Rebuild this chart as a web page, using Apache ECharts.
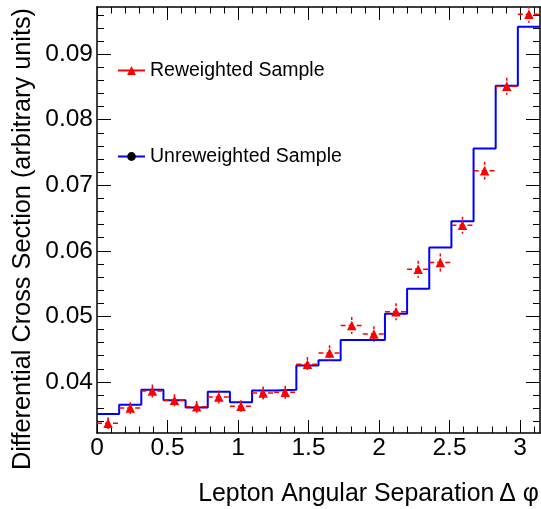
<!DOCTYPE html>
<html>
<head>
<meta charset="utf-8">
<script src="https://cdn.jsdelivr.net/npm/echarts@6/dist/echarts.min.js"></script>
<style>
html,body{margin:0;padding:0;background:#fff;}
#chart{width:541px;height:509px;}
</style>
</head>
<body>
<div id="chart"></div>
<script>
// ---- data ----
const binEdges = [0, 0.1571, 0.3142, 0.4712, 0.6283, 0.7854, 0.9425, 1.0996, 1.2566, 1.4137, 1.5708,
                  1.7279, 1.8850, 2.0420, 2.1991, 2.3562, 2.5133, 2.6704, 2.8274, 2.9845, 3.1416];
const unreweighted = [0.0351, 0.0365, 0.0388, 0.0372, 0.0361, 0.0385, 0.0369, 0.0387, 0.0388, 0.0425,
                      0.0433, 0.0464, 0.0464, 0.0504, 0.0542, 0.0605, 0.0645, 0.0756, 0.0852, 0.0942];
const reweighted = [0.0337, 0.0360, 0.0386, 0.0372, 0.0362, 0.0377, 0.0363, 0.0383, 0.0384, 0.0427,
                    0.0444, 0.0486, 0.0473, 0.0507, 0.0572, 0.0582, 0.0639, 0.0722, 0.0851, 0.0961];
const reweightedErr = [0.0009, 0.0009, 0.0010, 0.0009, 0.0009, 0.0010, 0.0009, 0.0010, 0.0010, 0.0011,
                       0.0012, 0.0013, 0.0012, 0.0013, 0.0013, 0.0014, 0.0013, 0.0014, 0.0013, 0.0013];
const xMajorTicks = [0, 0.5, 1, 1.5, 2, 2.5, 3];
const xMajorLabels = ['0', '0.5', '1', '1.5', '2', '2.5', '3'];
const xMinorTicks = [0.1, 0.2, 0.3, 0.4, 0.6, 0.7, 0.8, 0.9, 1.1, 1.2, 1.3, 1.4, 1.6, 1.7, 1.8, 1.9,
                     2.1, 2.2, 2.3, 2.4, 2.6, 2.7, 2.8, 2.9, 3.1];
const yMajorTicks = [0.04, 0.05, 0.06, 0.07, 0.08, 0.09];
const yMajorLabels = ['0.04', '0.05', '0.06', '0.07', '0.08', '0.09'];
const yMinorTicks = [0.034, 0.036, 0.038, 0.042, 0.044, 0.046, 0.048, 0.052, 0.054, 0.056, 0.058,
                     0.062, 0.064, 0.066, 0.068, 0.072, 0.074, 0.076, 0.078, 0.082, 0.084, 0.086, 0.088,
                     0.092, 0.094, 0.096];
const xRange = [0, 3.1416];
const yRange = [0.0322, 0.0972];
const seriesNames = ['Reweighted Sample', 'Unreweighted Sample'];
const xTitle = 'Lepton Angular Separation\u2009\u0394 \u03c6';
const yTitle = 'Differential Cross Section (arbitrary units)';

// ---- build ----
const FONT = "'Liberation Sans', Arial, Helvetica, sans-serif";
const chart = echarts.init(document.getElementById('chart'), null, {renderer: 'canvas'});

function xAx(pos, major, withLine) {
  return {
    type: 'value', position: pos, min: xRange[0], max: xRange[1],
    axisLine: {show: withLine, onZero: false, lineStyle: {color: '#000', width: 1.5}},
    splitLine: {show: false},
    axisTick: {show: true, inside: true, length: major ? 13 : 6.5,
      customValues: major ? xMajorTicks : xMinorTicks, lineStyle: {color: '#000', width: 1}},
    axisLabel: {show: pos === 'bottom' && major, customValues: xMajorTicks, margin: 3,
      fontFamily: FONT, fontSize: 24.5, color: '#000',
      formatter: function (v) { const i = xMajorTicks.findIndex(t => Math.abs(t - v) < 1e-6); return i >= 0 ? xMajorLabels[i] : ''; }}
  };
}
function yAx(pos, major, withLine) {
  return {
    type: 'value', position: pos, min: yRange[0], max: yRange[1],
    axisLine: {show: withLine, onZero: false, lineStyle: {color: '#000', width: 1.5}},
    splitLine: {show: false},
    axisTick: {show: true, inside: true, length: major ? 14 : 7,
      customValues: major ? yMajorTicks : yMinorTicks, lineStyle: {color: '#000', width: 1}},
    axisLabel: {show: pos === 'left' && major, customValues: yMajorTicks, margin: 4,
      fontFamily: FONT, fontSize: 24.5, color: '#000',
      formatter: function (v) { const i = yMajorTicks.findIndex(t => Math.abs(t - v) < 1e-7); return i >= 0 ? yMajorLabels[i] : ''; }}
  };
}

const stepData = unreweighted.map((v, i) => [binEdges[i], v]);
stepData.push([binEdges[binEdges.length - 1], unreweighted[unreweighted.length - 1]]);
const errData = reweighted.map((v, i) => [binEdges[i], binEdges[i + 1], v, reweightedErr[i]]);
const pointData = reweighted.map((v, i) => [(binEdges[i] + binEdges[i + 1]) / 2, v]);

const option = {
  animation: false,
  backgroundColor: '#fff',
  grid: {left: 97, right: 1, top: 7, bottom: 76, containLabel: false},
  xAxis: [xAx('bottom', true, true), xAx('bottom', false, false), xAx('top', true, true), xAx('top', false, false)],
  yAxis: [yAx('left', true, true), yAx('left', false, false), yAx('right', true, true), yAx('right', false, false)],
  legend: [
    {left: 117, top: 60.5, padding: 0, itemWidth: 27, itemHeight: 11, selectedMode: false,
     textStyle: {fontFamily: FONT, fontSize: 19.5, color: '#000'},
     data: [{name: seriesNames[0], itemStyle: {color: '#ff0000'}, lineStyle: {color: '#ff0000', width: 2, opacity: 1}}]},
    {left: 117, top: 146.5, padding: 0, itemWidth: 27, itemHeight: 11, selectedMode: false,
     textStyle: {fontFamily: FONT, fontSize: 19.5, color: '#000'},
     data: [{name: seriesNames[1], itemStyle: {color: '#000'}, lineStyle: {color: '#0000ff', width: 2}}]}
  ],
  series: [
    {
      name: seriesNames[1], type: 'line', step: 'end', data: stepData,
      symbol: 'circle', showSymbol: false, itemStyle: {color: '#000'},
      lineStyle: {color: '#0000ff', width: 2}, z: 2, silent: true
    },
    {
      name: 'err', type: 'custom', data: errData, z: 3, silent: true, clip: true,
      renderItem: function (params, api) {
        const xl = api.value(0), xh = api.value(1), y = api.value(2), e = api.value(3);
        const xc = (xl + xh) / 2;
        const p1 = api.coord([xl, y]), p2 = api.coord([xh, y]);
        const t = api.coord([xc, y + e]), b = api.coord([xc, y - e]);
        const st = {stroke: '#ff0000', lineWidth: 1.5, lineDash: [5, 3]};
        return {type: 'group', children: [
          {type: 'line', shape: {x1: p1[0], y1: p1[1], x2: p2[0], y2: p2[1]}, style: st},
          {type: 'line', shape: {x1: t[0], y1: t[1], x2: b[0], y2: b[1]}, style: {stroke: '#ff0000', lineWidth: 1.5, lineDash: [3, 2]}}
        ]};
      }
    },
    {
      name: seriesNames[0], type: 'line', data: pointData,
      symbol: 'triangle', symbolSize: 9.5, showSymbol: true,
      itemStyle: {color: '#ff0000'}, lineStyle: {width: 0, opacity: 0}, z: 4, silent: true
    }
  ],
  graphic: [
    {type: 'text', x: 539, y: 494, silent: true,
     style: {text: xTitle, fontFamily: FONT, fontSize: 24.9, fill: '#000', align: 'right', verticalAlign: 'middle'}},
    {type: 'text', x: 23, y: 8, rotation: Math.PI / 2, silent: true,
     style: {text: yTitle, fontFamily: FONT, fontSize: 25.3, fill: '#000', align: 'right', verticalAlign: 'middle'}}
  ]
};
chart.setOption(option);
</script>
</body>
</html>
